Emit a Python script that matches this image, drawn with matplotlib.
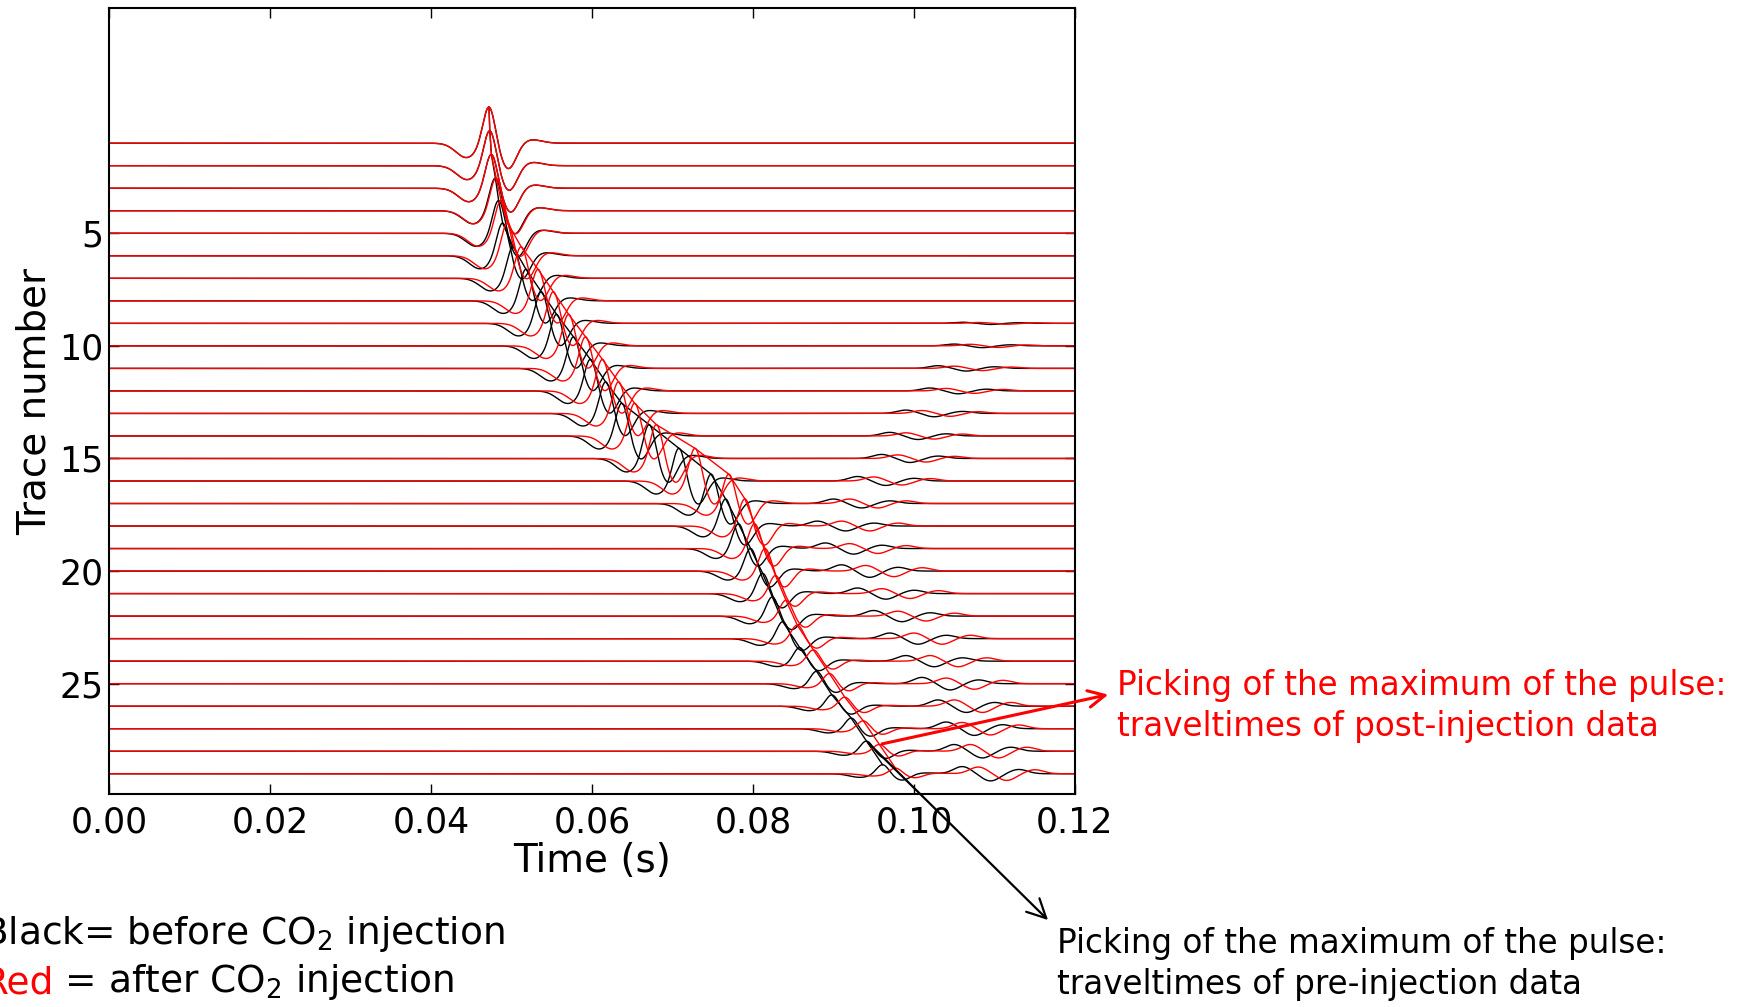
import numpy as np
import matplotlib
matplotlib.use("Agg")
import matplotlib.pyplot as plt

# trace numbers and picked arrival (peak) times, s
traces = np.arange(1, 30)
black_t = [0.0472, 0.0473, 0.0475, 0.0480, 0.0484, 0.0489, 0.0502, 0.0518, 0.0537, 0.0556,
           0.0577, 0.0598, 0.0617, 0.0637, 0.0671, 0.0708, 0.0748, 0.0766, 0.0782, 0.0797,
           0.0812, 0.0824, 0.0837, 0.0858, 0.0879, 0.0898, 0.0922, 0.0941, 0.0961]
red_t = [0.0472, 0.0473, 0.0475, 0.0481, 0.0487, 0.0495, 0.0512, 0.0533, 0.0552, 0.0571,
         0.0592, 0.0613, 0.0633, 0.0653, 0.0680, 0.0728, 0.0770, 0.0790, 0.0802, 0.0815,
         0.0828, 0.0841, 0.0855, 0.0875, 0.0895, 0.0914, 0.0937, 0.0957, 0.0977]

# peak amplitude of each pulse, in trace spacings
black_amp = [1.6, 1.55, 1.5, 1.45, 1.45, 1.45, 1.4, 1.4, 1.4, 1.4, 1.4, 1.4, 1.4, 1.45, 1.5,
             1.45, 1.3, 1.2, 1.1, 1.0, 0.9, 0.85, 0.75, 0.6, 0.55, 0.5, 0.47, 0.45, 0.4]
red_amp = [1.6, 1.55, 1.5, 1.45, 1.45, 1.45, 1.4, 1.4, 1.4, 1.4, 1.4, 1.4, 1.4, 1.45, 1.5,
           1.45, 1.3, 1.2, 1.1, 1.0, 0.8, 0.7, 0.6, 0.5, 0.45, 0.4, 0.35, 0.3, 0.25]

# later small arrivals (coda)
black_coda_t = [0, 0, 0, 0, 0, 0, 0, 0, 0.106, 0.105, 0.103, 0.102, 0.099, 0.097, 0.096,
                0.093, 0.090, 0.088, 0.089, 0.091, 0.093, 0.095, 0.097, 0.099, 0.101, 0.103,
                0.104, 0.105, 0.106]
black_coda_a = [0, 0, 0, 0, 0, 0, 0, 0, 0.05, 0.08, 0.12, 0.13, 0.15, 0.16, 0.18, 0.20,
                0.20, 0.22, 0.25, 0.28, 0.25, 0.25, 0.25, 0.25, 0.28, 0.28, 0.30, 0.30, 0.32]
red_coda_t = [0, 0, 0, 0, 0, 0, 0, 0, 0.108, 0.107, 0.105, 0.104, 0.101, 0.099, 0.098,
              0.095, 0.092, 0.091, 0.092, 0.094, 0.096, 0.098, 0.100, 0.102, 0.104, 0.105,
              0.106, 0.107, 0.108]
red_coda_a = [0, 0, 0, 0, 0, 0, 0, 0, 0.04, 0.07, 0.10, 0.11, 0.13, 0.14, 0.16, 0.18,
              0.20, 0.22, 0.22, 0.25, 0.22, 0.22, 0.25, 0.25, 0.25, 0.28, 0.28, 0.30, 0.30]

# pulse shape: lobe offsets (ms), amplitudes, widths (ms)
lobe_ms = [-2.8, 0.0, 2.4, 5.2]
lobe_amp = [-0.40, 1.08, -0.72, 0.10]
lobe_w = [1.3, 0.75, 1.0, 1.3]
coda_ms = [0.0, 3.5, 7.0]
coda_amp = [1.0, -1.0, 0.6]
coda_w = [1.1, 1.1, 1.1]

t = np.linspace(0, 0.12, 3001)


def pulse(t0, amp, offs, amps, widths):
    out = np.zeros_like(t)
    if amp == 0:
        return out
    for c, a, w in zip(offs, amps, widths):
        out += a * np.exp(-0.5 * ((t - t0 - c * 1e-3) / (w * 1e-3)) ** 2)
    return amp * out


fig = plt.figure(figsize=(17.42, 10.07), dpi=100)
ax = fig.add_axes([0.0626, 0.2115, 0.5545, 0.7805])

picks = {}
for color, tt, aa, ct, ca in [('black', black_t, black_amp, black_coda_t, black_coda_a),
                              ('red', red_t, red_amp, red_coda_t, red_coda_a)]:
    py = []
    for k, t0, a, c0, c1 in zip(traces, tt, aa, ct, ca):
        y = k - pulse(t0, a, lobe_ms, lobe_amp, lobe_w) - pulse(c0, c1, coda_ms, coda_amp, coda_w)
        ax.plot(t, y, color=color, lw=1.0)
        py.append(y[np.argmin(np.abs(t - t0))])
    ax.plot(tt, py, color=color, lw=1.0)
    picks[color] = py

ax.set_xlim(0, 0.12)
ax.set_ylim(29.9, -5)
ax.set_xticks([0.0, 0.02, 0.04, 0.06, 0.08, 0.10, 0.12])
ax.set_xticklabels(['0.00', '0.02', '0.04', '0.06', '0.08', '0.10', '0.12'])
ax.set_yticks([5, 10, 15, 20, 25])
ax.tick_params(direction='in', top=True, right=True, length=7, width=1, labelsize=25)
ax.tick_params(axis='x', pad=8)
ax.tick_params(axis='y', pad=4)
for s in ax.spines.values():
    s.set_linewidth(1.5)
ax.set_xlabel('Time (s)', fontsize=28, labelpad=2)
ax.set_ylabel('Trace number', fontsize=28, labelpad=4)

W, H = 1742.0, 1007.0

# arrows from the picks to the notes
ax.annotate('', xy=(1111 / W, 1 - 694 / H), xycoords='figure fraction',
            xytext=(red_t[27], picks['red'][27]), textcoords='data',
            arrowprops=dict(arrowstyle='->', color='red', lw=2.2, mutation_scale=30))
ax.annotate('', xy=(1050 / W, 1 - 922 / H), xycoords='figure fraction',
            xytext=(black_t[27], picks['black'][27]), textcoords='data',
            arrowprops=dict(arrowstyle='->', color='black', lw=1.6, mutation_scale=34))

fig.text(1117 / W, 1 - 706 / H, 'Picking of the maximum of the pulse:\ntraveltimes of post-injection data',
         color='red', fontsize=23.5, va='center', ha='left', linespacing=1.3)
fig.text(1057 / W, 1 - 964 / H, 'Picking of the maximum of the pulse:\ntraveltimes of pre-injection data',
         color='black', fontsize=23.5, va='center', ha='left', linespacing=1.3)

fig.text(-18 / W, 1 - 934 / H, 'Black= before CO$_2$ injection', fontsize=27, va='center', ha='left')
red_word = fig.text(-18 / W, 1 - 984 / H, 'Red', color='red', fontsize=27, va='center', ha='left')
ax.annotate(' = after CO$_2$ injection', xy=(1, 0), xycoords=red_word, va='bottom', ha='left',
            fontsize=27, color='black', annotation_clip=False)

fig.savefig('out.png', dpi=100)
